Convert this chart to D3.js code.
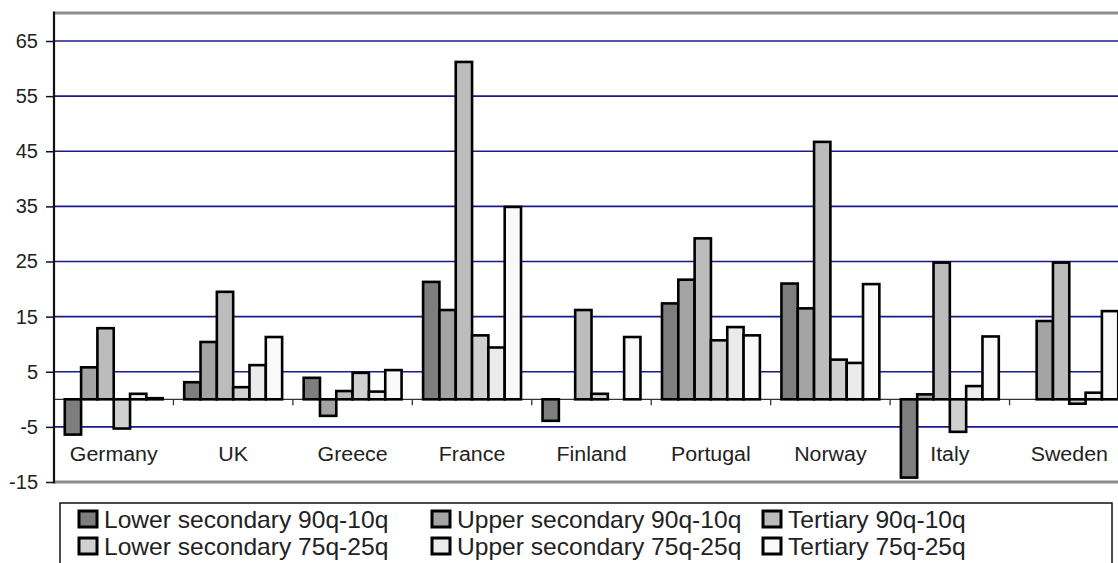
<!DOCTYPE html>
<html><head><meta charset="utf-8">
<script src="https://cdn.jsdelivr.net/npm/d3@7"></script>
<style>body{margin:0;background:#fff;overflow:hidden}svg{display:block}text{font-family:"Liberation Sans",Arial,sans-serif;fill:#222}</style>
</head><body><svg id="c" width="1118" height="563"></svg>
<script>
const categories = ["Germany","UK","Greece","France","Finland","Portugal","Norway","Italy","Sweden"];
const seriesNames = ["Lower secondary 90q-10q","Upper secondary 90q-10q","Tertiary 90q-10q","Lower secondary 75q-25q","Upper secondary 75q-25q","Tertiary 75q-25q"];
const lowerSec90 = [-6.4, 3.1, 3.9, 21.3, -3.9, 17.4, 21.0, -14.2, null];
const upperSec90 = [5.8, 10.4, -3.0, 16.2, null, 21.7, 16.5, 0.9, 14.2];
const tertiary90 = [12.9, 19.5, 1.5, 61.2, 16.2, 29.2, 46.7, 24.8, 24.8];
const lowerSec75 = [-5.3, 2.2, 4.8, 11.6, 1.0, 10.7, 7.2, -5.9, -0.8];
const upperSec75 = [1.0, 6.2, 1.4, 9.4, null, 13.1, 6.6, 2.4, 1.2];
const tertiary75 = [0.2, 11.3, 5.3, 34.9, 11.3, 11.6, 20.9, 11.4, 16.0];
const yTicks = [-15,-5,5,15,25,35,45,55,65];
const fills = ["#7e7e7e","#a4a4a4","#bcbcbc","#d0d0d0","#ebebeb","#f9f9f9"];

const series = [lowerSec90, upperSec90, tertiary90, lowerSec75, upperSec75, tertiary75];
const svg = d3.select("#c");
const y = d3.scaleLinear().domain([-15,65]).range([482,41]);
const x0 = d3.scaleBand().domain(categories).range([54,1129]).padding(0);
const x1 = d3.scaleBand().domain(d3.range(6)).range([0,x0.bandwidth()]).paddingInner(0).paddingOuter(0.66);

// gridlines
svg.append("g").selectAll("line").data(yTicks.filter(t=>t>-15)).join("line")
  .attr("x1",55).attr("x2",1130).attr("y1",d=>y(d)).attr("y2",d=>y(d))
  .attr("stroke","#1a1a8c").attr("stroke-width",1.6);

// frame top/bottom
svg.append("line").attr("x1",55).attr("x2",1130).attr("y1",13).attr("y2",13).attr("stroke","#8c8c8c").attr("stroke-width",3);
svg.append("line").attr("x1",55).attr("x2",1130).attr("y1",y(-15)).attr("y2",y(-15)).attr("stroke","#8c8c8c").attr("stroke-width",3);

// zero line with category ticks
svg.append("line").attr("x1",55).attr("x2",1130).attr("y1",y(0)).attr("y2",y(0)).attr("stroke","#333").attr("stroke-width",1.3);
svg.append("g").selectAll("line").data(categories).join("line")
  .attr("x1",d=>x0(d)+x0.bandwidth()).attr("x2",d=>x0(d)+x0.bandwidth())
  .attr("y1",y(0)).attr("y2",y(0)+6).attr("stroke","#333").attr("stroke-width",1.3);

// bars
const g = svg.append("g");
categories.forEach((c,ci)=>{
  series.forEach((s,si)=>{
    const v = s[ci];
    if (v===null) return;
    g.append("rect")
      .attr("x",x0(c)+x1(si)).attr("width",x1.bandwidth())
      .attr("y",y(Math.max(0,v))).attr("height",Math.abs(y(v)-y(0)))
      .attr("fill",fills[si]).attr("stroke","#000").attr("stroke-width",2.6);
  });
});

// y axis
const ya = d3.axisLeft(y).tickValues(yTicks).tickSize(8).tickPadding(8).tickFormat(d=>String(d));
const yg = svg.append("g").attr("transform","translate(54,0)").call(ya);
yg.select(".domain").remove();
yg.selectAll(".tick line").attr("stroke","#111").attr("stroke-width",1.5);
yg.selectAll(".tick text").attr("font-size",20).attr("fill","#222").style("font-family","Liberation Sans, Arial, sans-serif");
svg.append("line").attr("x1",54).attr("x2",54).attr("y1",11.5).attr("y2",483.5).attr("stroke","#111").attr("stroke-width",2.2);

// category labels (slightly stretched horizontally like the reference)
svg.append("g").selectAll("text").data(categories).join("text")
  .attr("transform",d=>`translate(${x0(d)+x0.bandwidth()/2},461) scale(1.07,1)`)
  .attr("text-anchor","middle").attr("font-size",20).text(d=>d);

// legend
svg.append("rect").attr("x",60).attr("y",503).attr("width",1052).attr("height",100)
  .attr("fill","#fff").attr("stroke","#111").attr("stroke-width",1.5);
const colX = [79,432,763];
const legOrder = [0,1,2,3,4,5];
const lg = svg.append("g").selectAll("g").data(legOrder).join("g")
  .attr("transform",(d,i)=>`translate(${colX[i%3]},${i<3?511:538})`);
lg.append("rect").attr("width",18).attr("height",16).attr("fill",d=>fills[d]).attr("stroke","#000").attr("stroke-width",3);
lg.append("text").attr("transform","translate(25,17) scale(1.07,1)").attr("font-size",23).text(d=>seriesNames[d]);
</script></body></html>
